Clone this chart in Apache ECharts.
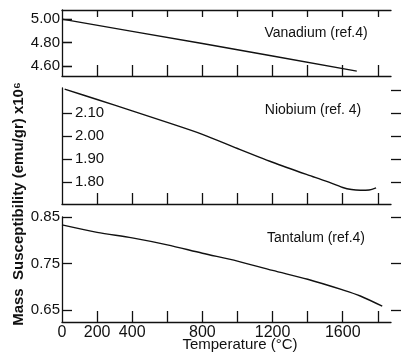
<!DOCTYPE html>
<html><head><meta charset="utf-8">
<script src="https://cdn.jsdelivr.net/npm/echarts@6/dist/echarts.min.js"></script>
<style>html,body{margin:0;padding:0;background:#fff}#c{width:401px;height:353px}</style>
</head><body><div id="c"></div>
<script>
// Data
const vTemps = [0, 400, 800, 1200, 1680];
const vValues = [5.00, 4.896, 4.792, 4.686, 4.557];
const nbTemps = [15, 200, 400, 600, 800, 1000, 1200, 1400, 1500, 1600, 1650, 1700, 1750, 1790];
const nbValues = [2.205, 2.16, 2.11, 2.06, 2.008, 1.946, 1.886, 1.831, 1.805, 1.776, 1.767, 1.764, 1.765, 1.774];
const taTemps = [0, 200, 400, 600, 800, 1000, 1200, 1400, 1600, 1700, 1825];
const taValues = [0.833, 0.817, 0.805, 0.790, 0.772, 0.755, 0.735, 0.716, 0.693, 0.680, 0.658];
const xTicks = [200, 400, 600, 800, 1000, 1200, 1400, 1600, 1800];
const xLabels = [0, 200, 400, 800, 1200, 1600];
const vTicks = [5.00, 4.80, 4.60];
const nbTicks = [2.10, 2.00, 1.90, 1.80];
const nbRightTicks = [2.20, 2.10, 2.00, 1.90, 1.80];
const taTicks = [0.85, 0.75, 0.65];
const panelNames = ['Vanadium (ref.4)', 'Niobium (ref. 4)', 'Tantalum (ref.4)'];
const yTitle = 'Mass  Susceptibility (emu/gr) x10\u2076';
const xTitle = 'Temperature (\u00B0C)';

const FONT = 'Liberation Sans';
const black = '#111';
const pair = (xs, ys) => xs.map((x, i) => [x, ys[i]]);

const grids = [
  {left: 62, top: 10, width: 329, height: 66},
  {left: 62, top: 88, width: 329, height: 116},
  {left: 62, top: 217, width: 329, height: 105}
];

function xAxisFor(gi, pos, showLabels, tickInside, tickLen) {
  return {
    type: 'value', gridIndex: gi, position: pos, min: 0, max: 1875,
    axisLine: {show: true, lineStyle: {color: black, width: 1.3}},
    axisTick: {show: true, inside: tickInside, length: tickLen, customValues: xTicks, lineStyle: {color: black, width: 1.3}},
    axisLabel: {show: showLabels, customValues: xLabels, margin: 3, color: black, fontFamily: FONT, fontSize: 16,
      formatter: v => String(v)},
    splitLine: {show: false}
  };
}
function yLeft(gi, min, max, ticks, inside) {
  return {
    type: 'value', gridIndex: gi, position: 'left', min: min, max: max,
    axisLine: {show: true, lineStyle: {color: black, width: 1.3}},
    axisTick: {show: true, inside: true, length: 10, customValues: ticks, lineStyle: {color: black, width: 1.3}},
    axisLabel: {show: true, inside: inside, customValues: ticks, margin: inside ? 13 : 2, color: black,
      fontFamily: FONT, fontSize: 15, formatter: v => v.toFixed(2)},
    splitLine: {show: false}
  };
}
function yRight(gi, min, max, ticks) {
  return {
    type: 'value', gridIndex: gi, position: 'right', min: min, max: max,
    axisLine: {show: false},
    axisTick: {show: true, inside: false, length: 10, customValues: ticks, lineStyle: {color: black, width: 1.3}},
    axisLabel: {show: false},
    splitLine: {show: false}
  };
}

const option = {
  backgroundColor: '#fff',
  animation: false,
  grid: grids,
  xAxis: [
    xAxisFor(0, 'bottom', false, true, 11),
    xAxisFor(1, 'bottom', false, true, 11),
    xAxisFor(2, 'bottom', true, true, 11),
    xAxisFor(0, 'top', false, true, 7)
  ],
  yAxis: [
    yLeft(0, 4.515, 5.078, vTicks, false),
    yLeft(1, 1.704, 2.21, nbTicks, true),
    yLeft(2, 0.624, 0.85, taTicks, false),
    yRight(0, 4.515, 5.078, vTicks),
    yRight(1, 1.704, 2.21, nbRightTicks),
    yRight(2, 0.624, 0.85, taTicks)
  ],
  series: [
    {type: 'line', xAxisIndex: 0, yAxisIndex: 0, data: pair(vTemps, vValues), showSymbol: false, lineStyle: {color: black, width: 1.4}},
    {type: 'line', xAxisIndex: 1, yAxisIndex: 1, data: pair(nbTemps, nbValues), showSymbol: false, smooth: 0.3, lineStyle: {color: black, width: 1.4}},
    {type: 'line', xAxisIndex: 2, yAxisIndex: 2, data: pair(taTemps, taValues), showSymbol: false, smooth: 0.3, lineStyle: {color: black, width: 1.4}}
  ],
  graphic: [
    {type: 'text', x: 316, y: 33, style: {text: panelNames[0], fill: black, font: '14px "' + FONT + '"', align: 'center', verticalAlign: 'middle'}},
    {type: 'text', x: 313, y: 110, style: {text: panelNames[1], fill: black, font: '14px "' + FONT + '"', align: 'center', verticalAlign: 'middle'}},
    {type: 'text', x: 316, y: 238, style: {text: panelNames[2], fill: black, font: '14px "' + FONT + '"', align: 'center', verticalAlign: 'middle'}},
    {type: 'text', x: 19, y: 204, rotation: Math.PI / 2, style: {text: yTitle, fill: black, font: 'bold 15px "' + FONT + '"', align: 'center', verticalAlign: 'middle'}},
    {type: 'text', x: 240, y: 345, style: {text: xTitle, fill: black, font: '15px "' + FONT + '"', align: 'center', verticalAlign: 'middle'}}
  ]
};
const chart = echarts.init(document.getElementById('c'), null, {renderer: 'canvas'});
chart.setOption(option);
</script>
</body></html>
